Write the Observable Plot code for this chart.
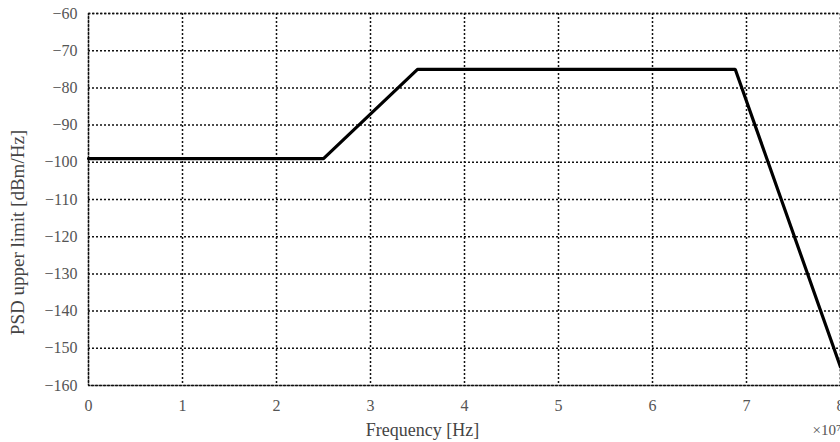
<!DOCTYPE html>
<html>
<head>
<meta charset="utf-8">
<script src="https://cdn.jsdelivr.net/npm/d3@7"></script>
<script src="https://cdn.jsdelivr.net/npm/@observablehq/plot@0.6"></script>
<style>
  html, body { margin: 0; padding: 0; background: #fff; overflow: hidden; }
  #chart svg { display: block; }
</style>
</head>
<body>
<div id="chart"></div>
<script>
// Breakpoints of the PSD mask (frequency in Hz, level in dBm/Hz)
const frequencies = [0, 2.5e7, 3.5e7, 6.88e7, 8e7];
const psdLimits = [-99, -99, -75, -75, -155];
const xTicks = [0, 1e7, 2e7, 3e7, 4e7, 5e7, 6e7, 7e7, 8e7];
const yTicks = [-60, -70, -80, -90, -100, -110, -120, -130, -140, -150, -160];
const xLabel = "Frequency [Hz]";
const yLabel = "PSD upper limit [dBm/Hz]";
const xExponent = "×10⁷";

const data = frequencies.map((f, i) => ({f, p: psdLimits[i]}));
const dots = "2,2";
const xFmt = d => d3.format("d")(d / 1e7);

const chart = Plot.plot({
  width: 840,
  height: 442,
  marginLeft: 88,
  marginRight: 0,
  marginTop: 13,
  marginBottom: 57,
  style: {fontFamily: "'Liberation Serif', 'Times New Roman', serif", fontSize: "16px", background: "#fff", overflow: "visible"},
  x: {domain: [0, 8e7], ticks: xTicks, tickFormat: xFmt},
  y: {domain: [-160, -60], ticks: yTicks},
  marks: [
    Plot.gridX(xTicks, {stroke: "#111", strokeOpacity: 1, strokeWidth: 1.5, strokeDasharray: dots}),
    Plot.gridY(yTicks, {stroke: "#111", strokeOpacity: 1, strokeWidth: 1.5, strokeDasharray: dots}),
    Plot.frame({stroke: "#111", strokeWidth: 1.5, strokeDasharray: dots}),
    Plot.axisX(xTicks, {tickSize: 0, tickPadding: 14, fill: "#555", fontSize: 16, label: null, tickFormat: xFmt}),
    Plot.axisY(yTicks, {tickSize: 0, tickPadding: 11, fill: "#555", fontSize: 16, label: null}),
    Plot.line(data, {x: "f", y: "p", stroke: "#000", strokeWidth: 3.2, strokeLinejoin: "miter"}),
    Plot.text([xLabel], {frameAnchor: "bottom", text: d => d, textAnchor: "middle", lineAnchor: "middle", dx: -42, dy: 45, fill: "#444", fontSize: 18}),
    Plot.text([xExponent], {frameAnchor: "bottom-right", text: d => d, textAnchor: "start", lineAnchor: "middle", dx: -28, dy: 45, fill: "#555", fontSize: 15}),
    Plot.text([yLabel], {frameAnchor: "left", text: d => d, textAnchor: "middle", lineAnchor: "middle", rotate: -90, dx: -71, dy: 33, fill: "#444", fontSize: 19})
  ]
});
document.getElementById("chart").append(chart);
</script>
</body>
</html>
